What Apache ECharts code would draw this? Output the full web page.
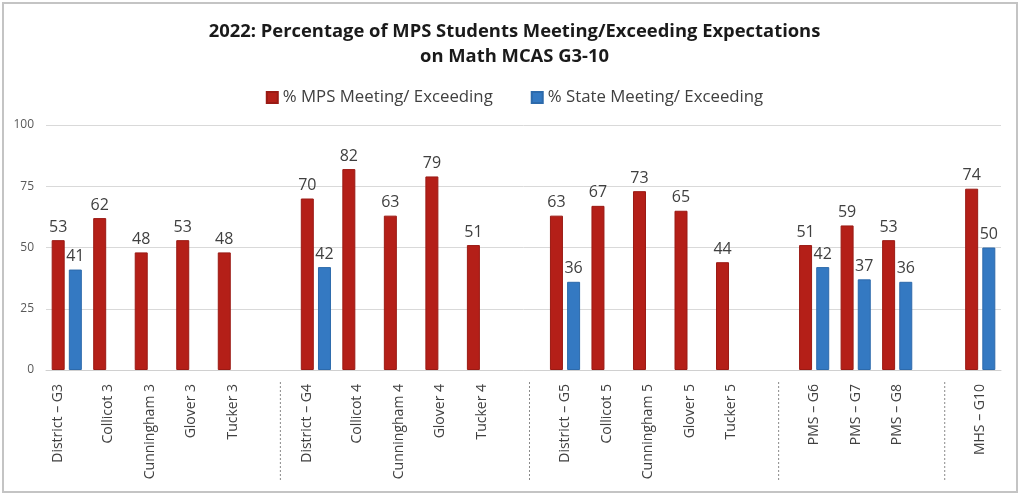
<!DOCTYPE html>
<html>
<head>
<meta charset="utf-8">
<script src="https://cdn.jsdelivr.net/npm/echarts@6/dist/echarts.min.js"></script>
<style>
html,body{margin:0;padding:0;background:#fff;}
#c{width:1029px;height:500px;}
</style>
</head>
<body>
<div id="c"></div>
<script>
var categories = ['District – G3','Collicot 3','Cunningham 3','Glover 3','Tucker 3','',
  'District – G4','Collicot 4','Cunningham 4','Glover 4','Tucker 4','',
  'District – G5','Collicot 5','Cunningham 5','Glover 5','Tucker 5','',
  'PMS – G6','PMS – G7','PMS – G8','',
  'MHS – G10'];
var mpsValues = [53,62,48,53,48,null, 70,82,63,79,51,null, 63,67,73,65,44,null, 51,59,53,null, 74];
var stateValues = [41,null,null,null,null,null, 42,null,null,null,null,null, 36,null,null,null,null,null, 42,37,36,null, 50];
var yTicks = [0,25,50,75,100];
var seriesNames = ['% MPS Meeting/ Exceeding','% State Meeting/ Exceeding'];
var shiftedLabels = ['District – G3','District – G4'];

var separators = [];
categories.forEach(function(c,i){ if(c==='') separators.push([i,0]); });

var FONT = 'Open Sans';
var chart = echarts.init(document.getElementById('c'));
chart.setOption({
  animation:false,
  backgroundColor:'#fff',
  textStyle:{fontFamily:FONT},
  title:{
    text:'2022: Percentage of MPS Students Meeting/Exceeding Expectations\non Math MCAS G3-10',
    left:'center', top:14,
    textStyle:{fontFamily:FONT,fontSize:18.4,fontWeight:'bold',color:'#1a1a1a',lineHeight:25}
  },
  legend:{
    data:seriesNames, top:84, left:'center', itemWidth:11, itemHeight:11, itemGap:38,
    icon:'rect',
    textStyle:{fontFamily:FONT,fontSize:16.8,color:'#404040'}
  },
  graphic:[{type:'rect',shape:{x:3,y:3,width:1014,height:489},style:{fill:'none',stroke:'#c4c4c4',lineWidth:2},silent:true}],
  grid:{left:46,right:28,top:125,bottom:130},
  xAxis:{
    type:'category', data:categories,
    axisLine:{lineStyle:{color:'#d0d0d0'}},
    axisTick:{show:false},
    axisLabel:{rotate:90,interval:0,margin:14,fontFamily:FONT,fontSize:14,color:'#404040',
      formatter:function(v){ return shiftedLabels.indexOf(v)>=0 ? '{s|'+v+'}' : v; },
      rich:{s:{fontFamily:FONT,fontSize:14,color:'#404040',padding:[0,0,18,0]}}}
  },
  yAxis:{
    type:'value', min:0, max:100, interval:25,
    axisLine:{show:false}, axisTick:{show:false},
    axisLabel:{fontFamily:FONT,fontSize:12,color:'#595959',margin:12,
      formatter:function(v){return yTicks.indexOf(v)>=0?String(v):'';}},
    splitLine:{lineStyle:{color:'#d9d9d9'}}
  },
  series:[
    {name:seriesNames[0],type:'bar',data:mpsValues,barWidth:13,barGap:'32%',
     itemStyle:{color:'#B41F18',borderColor:'#9a1a14',borderWidth:1},
     label:{show:true,position:'top',distance:5,fontFamily:FONT,fontSize:16,color:'#404040'}},
    {name:seriesNames[1],type:'bar',data:stateValues,barWidth:13,
     itemStyle:{color:'#3479C2',borderColor:'#2d6aab',borderWidth:1},
     label:{show:true,position:'top',distance:5,fontFamily:FONT,fontSize:16,color:'#404040'}},
    {type:'custom',silent:true,clip:false,data:separators,z:1,
     renderItem:function(params,api){
       var p = api.coord([api.value(0),0]);
       return {type:'line',shape:{x1:p[0]+6,y1:p[1]+12,x2:p[0]+6,y2:p[1]+110},
         style:{stroke:'#8a8a8a',lineWidth:1,lineDash:[2,2]}};
     }}
  ]
});
</script>
</body>
</html>
